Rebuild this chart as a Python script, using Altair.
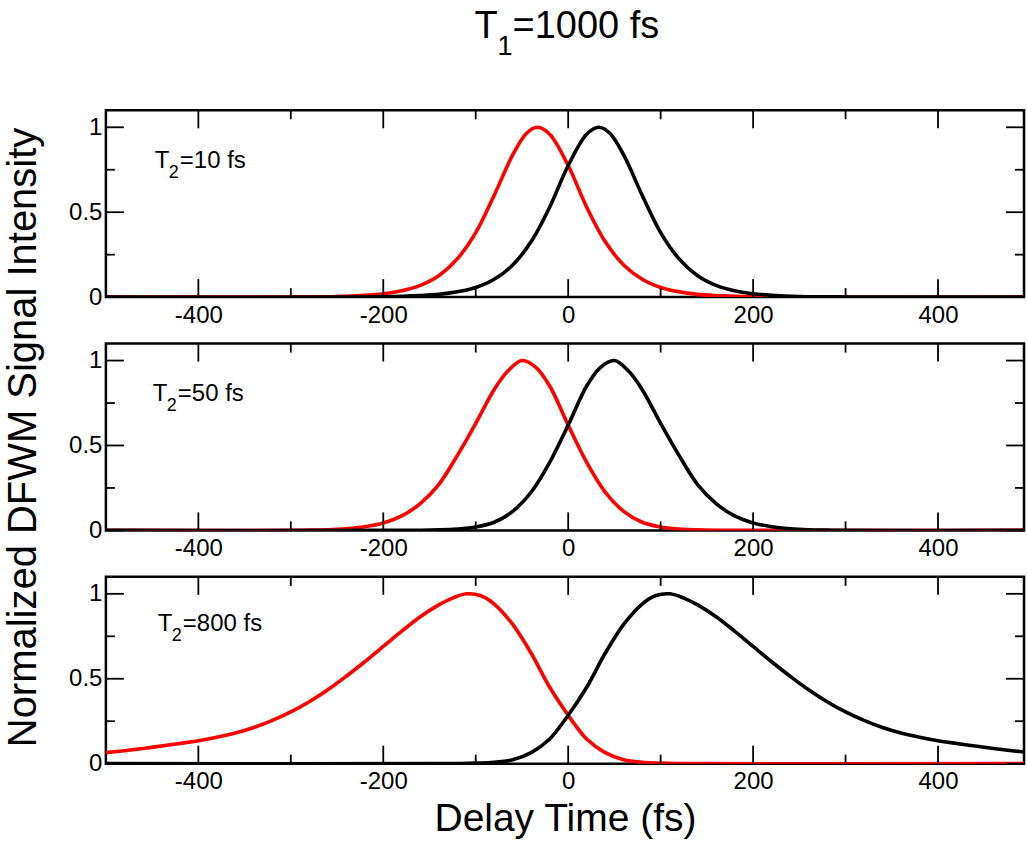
import altair as alt
import pandas as pd

FONT = "Liberation Sans"
W, H = 919, 187
XDOM = [-500, 493]
YDOM = [0, 1.1]

# tick positions
x_major = [-400, -200, 0, 200, 400]
x_minor = [-300, -100, 100, 300]
y_major = [0, 0.5, 1]
y_minor = [0.25, 0.75]

# ---- panel 1 : T2 = 10 fs ----
p1_red_x = [-500, -300, -250, -220, -200, -180, -160, -140, -120, -100, -80, -60, -45, -33, -20,
            0, 20, 40, 60, 80, 100, 120, 140, 160, 200, 250, 500]
p1_red_y = [0.0, 0.001, 0.004, 0.011, 0.020, 0.037, 0.069, 0.126, 0.225, 0.380, 0.600, 0.837, 0.965, 1.0, 0.959,
            0.775, 0.530, 0.327, 0.189, 0.105, 0.057, 0.031, 0.016, 0.009, 0.002, 0.0, 0.0]
p1_blk_x = [-500, -250, -200, -160, -140, -120, -100, -80, -60, -40, -20, 0, 20, 33, 45,
            60, 80, 100, 120, 140, 160, 180, 200, 220, 250, 300, 500]
p1_blk_y = [0.0, 0.0, 0.002, 0.009, 0.016, 0.031, 0.057, 0.105, 0.189, 0.327, 0.530, 0.775, 0.959, 1.0, 0.965,
            0.837, 0.600, 0.380, 0.225, 0.126, 0.069, 0.037, 0.020, 0.011, 0.004, 0.001, 0.0]

# ---- panel 2 : T2 = 50 fs ----
p2_red_x = [-500, -300, -280, -260, -240, -220, -200, -180, -160, -140, -120, -100, -80, -65, -50, -35, -20,
            0, 20, 40, 60, 80, 100, 120, 140, 160, 200, 500]
p2_red_y = [0.0, 0.0, 0.002, 0.004, 0.010, 0.022, 0.044, 0.085, 0.158, 0.270, 0.440, 0.630, 0.830, 0.940, 1.0,
            0.960, 0.850, 0.620, 0.400, 0.225, 0.112, 0.048, 0.020, 0.008, 0.003, 0.001, 0.0, 0.0]
p2_blk_x = [-500, -200, -160, -140, -120, -100, -80, -60, -40, -20, 0, 20, 35, 50, 65, 80, 100, 120, 140,
            160, 180, 200, 220, 240, 260, 280, 300, 500]
p2_blk_y = [0.0, 0.0, 0.001, 0.003, 0.008, 0.020, 0.048, 0.112, 0.225, 0.400, 0.620, 0.850, 0.960, 1.0, 0.940,
            0.830, 0.630, 0.440, 0.270, 0.158, 0.085, 0.044, 0.022, 0.010, 0.004, 0.002, 0.0, 0.0]

# ---- panel 3 : T2 = 800 fs ----
p3_red_x = [-500, -480, -460, -440, -420, -400, -380, -360, -340, -320, -300, -280, -260, -240, -220, -200,
            -180, -160, -140, -125, -110, -95, -80, -60, -40, -20, 0, 20, 40, 60, 80, 100, 120, 140, 500]
p3_red_y = [0.065, 0.076, 0.089, 0.104, 0.119, 0.135, 0.155, 0.180, 0.213, 0.255, 0.305, 0.365, 0.435, 0.515,
            0.600, 0.690, 0.780, 0.865, 0.935, 0.975, 1.0, 0.990, 0.940, 0.820, 0.650, 0.450, 0.285, 0.145,
            0.065, 0.023, 0.008, 0.003, 0.001, 0.0, 0.0]
p3_blk_x = [-500, -140, -120, -100, -80, -60, -40, -20, 0, 20, 40, 60, 80, 95, 110, 125, 140, 160, 180, 200,
            220, 240, 260, 280, 300, 320, 340, 360, 380, 400, 420, 440, 460, 480, 500]
p3_blk_y = [0.0, 0.0, 0.001, 0.003, 0.008, 0.023, 0.065, 0.145, 0.285, 0.450, 0.650, 0.820, 0.940, 0.990, 1.0,
            0.975, 0.935, 0.865, 0.780, 0.690, 0.600, 0.515, 0.435, 0.365, 0.305, 0.255, 0.213, 0.180, 0.155,
            0.135, 0.119, 0.104, 0.089, 0.076, 0.065]

panel_labels = [("T", "2", "=10 fs"), ("T", "2", "=50 fs"), ("T", "2", "=800 fs")]
title_parts = ("T", "1", "=1000 fs")
x_title = "Delay Time (fs)"
y_title = "Normalized DFWM Signal Intensity"

xscale = alt.Scale(domain=XDOM, nice=False, zero=False)
yscale = alt.Scale(domain=YDOM, nice=False, zero=False)


def text_piece(txt, x, y, size):
    return alt.Chart(pd.DataFrame({"t": [txt]})).mark_text(
        align="left", baseline="alphabetic", font=FONT, fontSize=size, color="black"
    ).encode(x=alt.value(x), y=alt.value(y), text="t:N")


def panel(rx, ry, bx, by, lab, lx, ly, show_xt, show_yt, with_title):
    xa = alt.Axis(values=x_major, ticks=False, domain=False, grid=False, labelFont=FONT, labelFontSize=24,
                  labelColor="black", labelPadding=6, labelFlush=False,
                  labelExpr="(datum.value < 0 ? '-' : '') + abs(datum.value)",
                  titleFont=FONT, titleFontSize=39, titleFontWeight="normal", titleColor="black", titlePadding=6)
    ya = alt.Axis(values=y_major, ticks=False, domain=False, grid=False, labelFont=FONT, labelFontSize=24,
                  labelColor="black", labelPadding=4, labelExpr="'' + datum.value",
                  titleFont=FONT, titleFontSize=40, titleFontWeight="normal", titleColor="black", titlePadding=25)
    xt = x_title if show_xt else None
    yt = y_title if show_yt else None

    def X(field):
        return alt.X(field, scale=xscale, axis=xa, title=xt)

    def Y(field):
        return alt.Y(field, scale=yscale, axis=ya, title=yt)

    red = alt.Chart(pd.DataFrame({"x": rx, "y": ry})).mark_line(
        color="#ff0000", strokeWidth=3.6, clip=True, interpolate="catmull-rom"
    ).encode(x=X("x:Q"), y=Y("y:Q"))
    blk = alt.Chart(pd.DataFrame({"x": bx, "y": by})).mark_line(
        color="#000000", strokeWidth=3.6, clip=True, interpolate="catmull-rom"
    ).encode(x=X("x:Q"), y=Y("y:Q"))
    layers = [red, blk]

    for vals, ln in ((x_major, 18), (x_minor, 9)):
        base = alt.Chart(pd.DataFrame({"x": vals})).mark_rule(color="black", strokeWidth=1.8)
        layers.append(base.encode(x=X("x:Q"), y=alt.value(H), y2=alt.value(H - ln)))
        layers.append(base.encode(x=X("x:Q"), y=alt.value(0), y2=alt.value(ln)))
    for vals, ln in ((y_major, 18), (y_minor, 9)):
        base = alt.Chart(pd.DataFrame({"y": vals})).mark_rule(color="black", strokeWidth=1.8)
        layers.append(base.encode(y=Y("y:Q"), x=alt.value(0), x2=alt.value(ln)))
        layers.append(base.encode(y=Y("y:Q"), x=alt.value(W), x2=alt.value(W - ln)))

    layers += [text_piece(lab[0], lx, ly, 24),
               text_piece(lab[1], lx + 14, ly + 10, 18),
               text_piece(lab[2], lx + 25, ly, 24)]
    if with_title:
        tx, ty = 369, -72
        layers += [text_piece(title_parts[0], tx, ty, 38),
                   text_piece(title_parts[1], tx + 23, ty + 17, 27),
                   text_piece(title_parts[2], tx + 38, ty, 38)]
    return alt.layer(*layers).properties(width=W, height=H)


c1 = panel(p1_red_x, p1_red_y, p1_blk_x, p1_blk_y, panel_labels[0], 49, 58, False, False, True)
c2 = panel(p2_red_x, p2_red_y, p2_blk_x, p2_blk_y, panel_labels[1], 47, 57, False, True, False)
c3 = panel(p3_red_x, p3_red_y, p3_blk_x, p3_blk_y, panel_labels[2], 52, 54, True, False, False)

chart = alt.vconcat(c1, c2, c3, spacing=46.5, bounds="flush").properties(
    padding={"left": 2, "top": 6, "right": 0, "bottom": 0},
    background="white",
).configure(
    font=FONT,
    view=alt.ViewConfig(stroke="black", strokeWidth=2.5),
)

chart.save("out.html", embed_options={"renderer": "svg", "actions": False})
